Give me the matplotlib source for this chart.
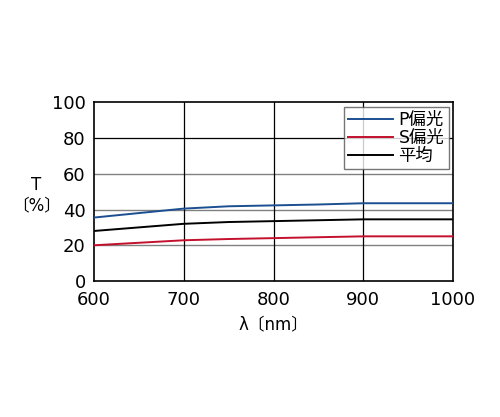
import matplotlib
matplotlib.use("Agg")
import matplotlib.pyplot as plt

plt.rcParams['font.family'] = ['DejaVu Sans', 'Noto Sans CJK JP']

# wavelength (nm) and transmittance (%)
wavelength = [600, 650, 700, 750, 800, 850, 900, 950, 1000]
p_pol = [35.5, 38.0, 40.5, 41.8, 42.3, 42.8, 43.5, 43.5, 43.5]
s_pol = [20.0, 21.4, 22.8, 23.5, 24.0, 24.5, 25.0, 25.0, 25.0]
avg = [28.0, 30.0, 32.0, 33.0, 33.5, 34.0, 34.5, 34.5, 34.5]
labels = ['P偏光', 'S偏光', '平均']

fig = plt.figure(figsize=(5, 4.17), dpi=100)
ax = fig.add_axes([0.188, 0.326, 0.718, 0.429])

for y in [20, 40, 60]:
    ax.axhline(y, color='#808080', lw=1, zorder=1)
ax.axhline(80, color='black', lw=0.9, zorder=1)
for x in [700, 800, 900]:
    ax.axvline(x, color='black', lw=0.9, zorder=1)

ax.plot(wavelength, p_pol, color='#1c4f91', lw=1.4, label=labels[0], zorder=3)
ax.plot(wavelength, s_pol, color='#c3102c', lw=1.4, label=labels[1], zorder=3)
ax.plot(wavelength, avg, color='black', lw=1.4, label=labels[2], zorder=3)

ax.set_xlim(600, 1000)
ax.set_ylim(0, 100)
ax.set_xticks([600, 700, 800, 900, 1000])
ax.set_yticks([0, 20, 40, 60, 80, 100])
ax.tick_params(length=0, labelsize=13)
ax.tick_params(axis='y', pad=6)
ax.tick_params(axis='x', pad=7)
for s in ax.spines.values():
    s.set_linewidth(1.2)

ax.set_xlabel('λ〔nm〕', fontsize=12, labelpad=5)
ax.set_ylabel('T\n〔%〕', fontsize=12, rotation=0, ha='center', va='center',
              linespacing=1.1)
ax.yaxis.set_label_coords(-0.16, 0.48)

leg = ax.legend(loc='upper right', fontsize=12.5, frameon=True, fancybox=False,
                edgecolor='#555555', borderaxespad=0.25, handlelength=2.6,
                handletextpad=0.3, labelspacing=0.0, borderpad=0.25)
leg.get_frame().set_linewidth(1.0)

fig.savefig('out.png', dpi=100)
